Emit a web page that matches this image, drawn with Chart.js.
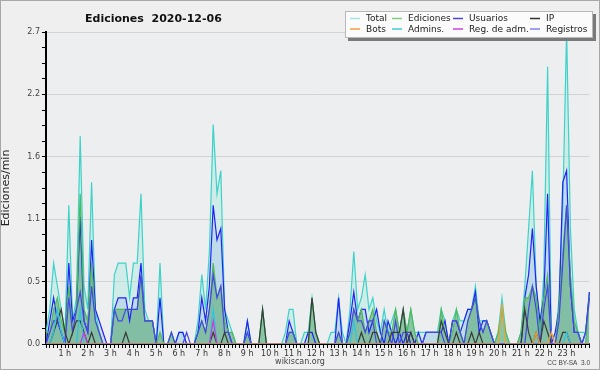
<!DOCTYPE html>
<html>
<head>
<meta charset="utf-8">
<script src="https://cdn.jsdelivr.net/npm/chart.js@4.4.1/dist/chart.umd.min.js"></script>
<style>
  html, body { margin: 0; padding: 0; background: #efefef; }
  #wrap { width: 600px; height: 370px; }
</style>
</head>
<body>
<div id="wrap"><canvas id="editChart" width="600" height="370"></canvas></div>
<script>
// franjas de 10 minutos (00:00 ... 23:50)
const slots = [];
for (let h = 0; h < 24; h++) {
    for (let m = 0; m < 60; m += 10) {
        slots.push(String(h).padStart(2, '0') + ':' + String(m).padStart(2, '0'));
    }
}

// valores (ediciones/min), una fila por hora
const total = [
    0.1, 0.3, 0.7, 0.5, 0.3, 0.1,
    1.2, 0.2, 0.4, 1.8, 0.5, 0.3,
    1.4, 0.3, 0.1, 0, 0, 0,
    0.6, 0.7, 0.7, 0.7, 0.4, 0.7,
    0.7, 1.3, 0.3, 0.2, 0.2, 0,
    0.7, 0, 0, 0.1, 0, 0.1,
    0.1, 0, 0, 0, 0.2, 0.6,
    0.3, 0.8, 1.9, 1.3, 1.5, 0.3,
    0.2, 0.1, 0, 0, 0, 0.2,
    0, 0, 0, 0.3, 0, 0,
    0, 0, 0, 0.1, 0.3, 0.3,
    0, 0, 0.1, 0.1, 0.4, 0.1,
    0, 0, 0, 0.1, 0.1, 0.4,
    0.1, 0, 0.3, 0.8, 0.3, 0.4,
    0.6, 0.3, 0.4, 0.2, 0.1, 0.3,
    0.1, 0.2, 0.3, 0.1, 0.3, 0.1,
    0.3, 0.1, 0.1, 0.1, 0.1, 0.1,
    0.1, 0.1, 0.3, 0.2, 0, 0.2,
    0.3, 0.2, 0.2, 0.3, 0.3, 0.5,
    0.2, 0.2, 0.2, 0.1, 0, 0.1,
    0.4, 0.1, 0, 0, 0, 0.1,
    0.5, 1.0, 1.5, 0.5, 0.1, 0.6,
    2.4, 0, 0, 0.4, 1.2, 2.7,
    1.0, 0.3, 0.1, 0.1, 0.1, 0.45
];
const ediciones = [
    0.1, 0.1, 0.3, 0.4, 0.2, 0.1,
    0.5, 0.1, 0.3, 1.3, 0.3, 0.2,
    0.7, 0.2, 0.1, 0, 0, 0,
    0.3, 0.3, 0.3, 0.3, 0.3, 0.3,
    0.3, 0.6, 0.2, 0.2, 0.2, 0,
    0.1, 0, 0, 0.1, 0, 0,
    0, 0, 0, 0, 0.1, 0.2,
    0.1, 0.3, 0.7, 0.4, 0.5, 0.2,
    0.1, 0.1, 0, 0, 0, 0.1,
    0, 0, 0, 0.3, 0, 0,
    0, 0, 0, 0, 0.1, 0.1,
    0, 0, 0, 0, 0.4, 0.1,
    0, 0, 0, 0, 0, 0.1,
    0, 0, 0.1, 0.3, 0.2, 0.3,
    0.1, 0.2, 0.3, 0.1, 0, 0.2,
    0.1, 0.1, 0.3, 0.1, 0.3, 0.1,
    0.3, 0.1, 0, 0, 0, 0,
    0, 0, 0.3, 0.1, 0, 0.1,
    0.3, 0.1, 0, 0.2, 0.3, 0.4,
    0.2, 0.1, 0.2, 0.1, 0, 0.1,
    0.3, 0.1, 0, 0, 0, 0.1,
    0.4, 0.4, 0.5, 0.4, 0.1, 0.4,
    0.6, 0, 0, 0.3, 0.8, 1.2,
    0.6, 0.2, 0.1, 0, 0, 0.4
];
const usuarios = [
    0, 0.1, 0.2, 0.2, 0.1, 0,
    0.4, 0.1, 0.3, 0.45, 0.2, 0.1,
    0.5, 0.2, 0.1, 0, 0, 0,
    0.3, 0.2, 0.2, 0.3, 0.3, 0.3,
    0.3, 0.6, 0.2, 0.2, 0.2, 0,
    0, 0, 0, 0.1, 0, 0,
    0, 0.1, 0, 0, 0.1, 0.2,
    0.1, 0.3, 0.6, 0.4, 0.5, 0.1,
    0.1, 0, 0, 0, 0, 0.1,
    0, 0, 0, 0, 0, 0,
    0, 0, 0, 0, 0.1, 0.1,
    0, 0, 0, 0, 0, 0,
    0, 0, 0, 0, 0, 0.1,
    0, 0, 0.1, 0.3, 0.2, 0.2,
    0.1, 0.2, 0.2, 0, 0, 0.2,
    0.1, 0, 0.2, 0, 0.1, 0.1,
    0.1, 0, 0, 0, 0.1, 0.1,
    0.1, 0.1, 0.1, 0, 0, 0.2,
    0.2, 0.1, 0, 0.2, 0.3, 0.4,
    0.2, 0.1, 0.2, 0.1, 0, 0,
    0, 0, 0, 0, 0, 0,
    0, 0.3, 0.5, 0.3, 0, 0.3,
    0.5, 0, 0, 0.2, 0.7, 1.2,
    0.5, 0.1, 0.1, 0, 0.1, 0.4
];
const ip = [
    0, 0, 0.1, 0.2, 0.3, 0.1,
    0, 0.1, 0.2, 0.2, 0.1, 0,
    0.1, 0, 0, 0, 0, 0,
    0, 0, 0, 0.1, 0, 0,
    0, 0, 0, 0, 0, 0,
    0, 0, 0, 0, 0, 0,
    0, 0, 0, 0, 0, 0,
    0, 0, 0.1, 0, 0, 0.1,
    0, 0, 0, 0, 0, 0,
    0, 0, 0, 0.3, 0, 0,
    0, 0, 0, 0, 0, 0,
    0, 0, 0, 0, 0.4, 0.1,
    0, 0, 0, 0, 0, 0,
    0, 0, 0, 0, 0, 0.1,
    0, 0, 0.1, 0.1, 0, 0,
    0, 0.1, 0.1, 0.1, 0.3, 0,
    0.1, 0, 0, 0, 0, 0,
    0, 0, 0.2, 0.1, 0, 0,
    0.1, 0, 0, 0, 0.1, 0,
    0.1, 0, 0, 0, 0, 0,
    0, 0, 0, 0, 0, 0,
    0.3, 0.1, 0, 0.1, 0, 0.2,
    0.1, 0, 0, 0, 0.1, 0.1,
    0, 0, 0, 0, 0, 0
];
const bots = [
    0, 0, 0, 0, 0, 0,  0, 0, 0, 0, 0, 0,  0, 0, 0, 0, 0, 0,  0, 0, 0, 0, 0, 0,
    0, 0, 0, 0, 0, 0,  0, 0, 0, 0, 0, 0,  0, 0, 0, 0, 0, 0,  0, 0, 0, 0, 0, 0,
    0, 0, 0, 0, 0, 0,  0, 0, 0, 0, 0, 0,  0, 0, 0, 0, 0, 0,  0, 0, 0, 0, 0, 0,
    0, 0, 0, 0, 0, 0,  0, 0, 0, 0, 0, 0,  0, 0, 0, 0, 0, 0,  0, 0, 0, 0, 0, 0,
    0, 0, 0, 0, 0, 0,  0, 0, 0, 0, 0, 0,  0, 0, 0, 0, 0, 0,  0, 0, 0, 0, 0, 0,
    0.35, 0, 0, 0, 0, 0,  0, 0, 0, 0.1, 0, 0,  0, 0.1, 0, 0, 0, 0,  0, 0, 0, 0, 0, 0
];
const admins = [
    0, 0, 0.1, 0.3, 0.1, 0,  0, 0, 0, 0.3, 0, 0,  0, 0, 0, 0, 0, 0,  0, 0, 0, 0, 0, 0,
    0, 0, 0, 0, 0, 0,  0, 0, 0, 0, 0, 0,  0, 0, 0, 0, 0, 0,  0, 0, 0.3, 0, 0, 0,
    0, 0, 0, 0, 0, 0,  0, 0, 0, 0, 0, 0,  0, 0, 0, 0, 0, 0,  0, 0, 0, 0, 0, 0,
    0, 0, 0, 0, 0, 0,  0, 0, 0, 0.2, 0, 0,  0, 0, 0, 0, 0, 0,  0, 0, 0, 0, 0, 0,
    0, 0, 0, 0, 0, 0,  0, 0, 0, 0, 0, 0,  0, 0, 0, 0, 0, 0,  0, 0, 0, 0, 0, 0,
    0, 0, 0, 0, 0, 0,  0, 0, 0, 0, 0, 0,  0, 0, 0, 0, 0, 0.1,  0, 0, 0, 0, 0, 0
];
const regAdm = [
    0, 0, 0, 0, 0, 0,  0, 0, 0, 0, 0.1, 0,  0, 0, 0, 0, 0, 0,  0, 0, 0, 0, 0, 0,
    0, 0, 0, 0, 0, 0,  0, 0, 0, 0, 0, 0,  0, 0, 0, 0, 0, 0,  0, 0, 0.2, 0, 0, 0,
    0, 0, 0, 0, 0, 0,  0, 0, 0, 0, 0, 0,  0, 0, 0, 0, 0, 0,  0, 0, 0, 0, 0, 0,
    0, 0, 0, 0, 0, 0,  0, 0, 0, 0, 0, 0,  0, 0, 0, 0, 0, 0,  0, 0, 0, 0, 0, 0,
    0, 0, 0, 0, 0, 0,  0, 0, 0, 0, 0, 0,  0, 0, 0, 0, 0, 0,  0, 0, 0, 0, 0, 0,
    0, 0, 0, 0, 0, 0,  0, 0, 0, 0, 0, 0,  0, 0, 0, 0, 0, 0,  0, 0, 0, 0, 0, 0
];
const registros = [
    0, 0.2, 0.4, 0.2, 0.1, 0,
    0.7, 0.2, 0.3, 1.1, 0.2, 0.1,
    0.9, 0.3, 0.2, 0.1, 0, 0,
    0.3, 0.4, 0.4, 0.4, 0.2, 0.4,
    0.4, 0.7, 0.2, 0.2, 0.2, 0,
    0.4, 0, 0, 0, 0, 0.1,
    0.1, 0, 0, 0, 0.1, 0.4,
    0.2, 0.5, 1.2, 0.9, 1.0, 0.3,
    0.1, 0, 0, 0, 0, 0.2,
    0, 0, 0, 0, 0, 0,
    0, 0, 0, 0, 0.2, 0.1,
    0, 0, 0, 0.1, 0.1, 0,
    0, 0, 0, 0, 0, 0.4,
    0, 0, 0.2, 0.45, 0.2, 0.3,
    0.3, 0.1, 0.2, 0.3, 0.1, 0,
    0.2, 0.1, 0, 0.1, 0, 0.1,
    0, 0, 0.1, 0, 0.1, 0.1,
    0.1, 0.1, 0.1, 0.2, 0, 0.2,
    0.2, 0.1, 0.2, 0.3, 0.3, 0.45,
    0.1, 0.2, 0.2, 0.1, 0, 0,
    0, 0, 0, 0, 0, 0,
    0.4, 0.6, 1.0, 0.5, 0.2, 0.4,
    1.3, 0, 0.1, 0.3, 1.4, 1.5,
    0.5, 0.1, 0.1, 0, 0.1, 0.45
];

const yTicks = [0, 0.54, 1.08, 1.62, 2.16, 2.7];
const yMax = 2.7;

const fontSans = "'DejaVu Sans', Verdana, sans-serif";

// fondo, borde, titulo y pie
const frame = {
    id: 'frame',
    beforeDraw(chart) {
        const ctx = chart.ctx;
        const a = chart.chartArea;
        ctx.save();
        ctx.fillStyle = '#efefef';
        ctx.fillRect(0, 0, chart.width, chart.height);
        ctx.strokeStyle = '#a8a8a8';
        ctx.lineWidth = 1;
        ctx.strokeRect(0.5, 0.5, chart.width - 1, chart.height - 1);
        ctx.fillStyle = '#eceef0';
        ctx.fillRect(a.left, a.top, a.right - a.left, a.bottom - a.top);
        ctx.restore();
    },
    afterDraw(chart) {
        const ctx = chart.ctx;
        ctx.save();
        ctx.fillStyle = '#111';
        ctx.font = 'bold 11px ' + fontSans;
        ctx.textBaseline = 'alphabetic';
        ctx.fillText('Ediciones  2020-12-06', 85, 21.5);
        ctx.fillStyle = '#444';
        ctx.font = '8px ' + fontSans;
        ctx.textAlign = 'center';
        ctx.fillText('wikiscan.org', 300, 364);
        ctx.font = "6.5px 'Liberation Sans', Arial, sans-serif";
        ctx.textAlign = 'right';
        ctx.fillText('CC BY-SA  3.0', 590, 365);

        // leyenda
        const bx = 345, by = 11, bw = 248, bh = 27;
        ctx.fillStyle = '#7a7a7a';
        ctx.fillRect(bx + 3, by + 3, bw, bh);
        ctx.fillStyle = '#fbfbfb';
        ctx.fillRect(bx, by, bw, bh);
        ctx.strokeStyle = '#b8b8b8';
        ctx.strokeRect(bx + 0.5, by + 0.5, bw - 1, bh - 1);
        const cols = [350, 392, 453, 530];
        const rows = [18.5, 29];
        const order = ['Total', 'Ediciones', 'Usuarios', 'IP', 'Bots', 'Admins.', 'Reg. de adm.', 'Registros'];
        ctx.font = '9px ' + fontSans;
        ctx.textAlign = 'left';
        ctx.textBaseline = 'middle';
        order.forEach((name, k) => {
            const ds = chart.data.datasets.find(d => d.label === name);
            const x = cols[k % 4];
            const y = rows[Math.floor(k / 4)];
            ctx.strokeStyle = ds.legendColor;
            ctx.lineWidth = 1.5;
            ctx.beginPath();
            ctx.moveTo(x, y);
            ctx.lineTo(x + 10, y);
            ctx.stroke();
            ctx.fillStyle = '#222';
            ctx.fillText(name, x + 16, y + 0.5);
        });
        ctx.restore();
    }
};

function line(label, data, color, legendColor, order, fill) {
    return {
        label: label,
        data: data,
        borderColor: color,
        legendColor: legendColor,
        borderWidth: 1.2,
        pointRadius: 0,
        tension: 0,
        order: order,
        fill: fill ? 'origin' : false,
        backgroundColor: fill || 'transparent'
    };
}

new Chart(document.getElementById('editChart'), {
    type: 'line',
    data: {
        labels: slots,
        datasets: [
            line('Total', total, '#3cd2c8', '#a6e6de', 8, 'rgba(175,232,224,0.45)'),
            line('Registros', registros, '#2222f8', '#8080f0', 7, 'rgba(140,175,235,0.28)'),
            line('Ediciones', ediciones, '#52b85a', '#7fcf7f', 6, 'rgba(80,165,105,0.55)'),
            line('Usuarios', usuarios, '#4646e6', '#4646e0', 5, null),
            line('IP', ip, '#3a3a3a', '#333333', 4, null),
            line('Admins.', admins, '#30c2e2', '#40c8e0', 3, null),
            line('Reg. de adm.', regAdm, '#c83ce0', '#d040e0', 2, null),
            line('Bots', bots, '#f0a030', '#f0a040', 1, null)
        ]
    },
    options: {
        responsive: false,
        animation: false,
        devicePixelRatio: 1,
        layout: { padding: { left: 0, right: 10.6, top: 32, bottom: 0 } },
        plugins: {
            legend: { display: false },
            title: { display: false },
            tooltip: { enabled: false },
            filler: { drawTime: 'beforeDatasetsDraw' }
        },
        scales: {
            x: {
                type: 'category',
                offset: false,
                afterFit(scale) { scale.height = 26; },
                border: { color: '#000', width: 2 },
                grid: { drawOnChartArea: false, tickLength: 4, tickColor: '#000' },
                ticks: {
                    autoSkip: false,
                    maxRotation: 0,
                    padding: 1,
                    labelOffset: -4,
                    color: '#333',
                    font: { family: fontSans, size: 8 },
                    callback: (v, i) => (i % 6 === 0 && i > 0) ? (i / 6) + ' h' : ''
                }
            },
            y: {
                min: 0,
                max: yMax,
                afterFit(scale) { scale.width = 46; },
                afterBuildTicks(scale) {
                    const t = [];
                    for (let k = 0; k <= 20; k++) t.push({ value: yMax * k / 20 });
                    scale.ticks = t;
                },
                border: { color: '#000', width: 2 },
                grid: {
                    tickLength: 4,
                    tickColor: '#000',
                    color: c => (c.index % 4 === 0 && c.index > 0) ? '#d2d2d2' : 'transparent'
                },
                ticks: {
                    padding: 2,
                    color: '#444',
                    font: { family: fontSans, size: 8 },
                    callback: (v, i) => i % 4 === 0 ? yTicks[i / 4].toFixed(1) : ''
                },
                title: {
                    display: true,
                    text: 'Ediciones/min',
                    color: '#222',
                    font: { family: fontSans, size: 11 },
                    padding: 0
                }
            }
        }
    },
    plugins: [frame]
});
</script>
</body>
</html>
